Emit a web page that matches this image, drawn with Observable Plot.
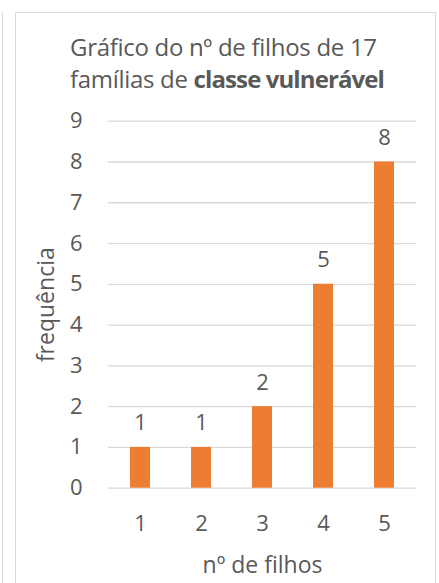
<!DOCTYPE html>
<html>
<head>
<meta charset="utf-8">
<script src="https://cdn.jsdelivr.net/npm/d3@7"></script>
<script src="https://cdn.jsdelivr.net/npm/@observablehq/plot@0.6"></script>
<style>
  html, body { margin: 0; padding: 0; background: #fff; }
  body { width: 439px; height: 583px; position: relative; overflow: hidden; font-family: "Open Sans", sans-serif; }
  #leftline { position: absolute; left: 2px; top: 12px; width: 0; height: 600px; border-left: 1px solid #d9d9d9; }
  #frame { position: absolute; left: 15px; top: 12px; width: 421px; height: 600px; border: 1px solid #d9d9d9; box-sizing: border-box; }
  #title { position: absolute; left: 70px; top: 31px; font-size: 24px; line-height: 32px; color: #595959; white-space: nowrap; letter-spacing: -0.3px; }
  #title b { font-weight: 700; letter-spacing: -0.9px; }
  #chart { position: absolute; left: 0; top: 100px; }
</style>
</head>
<body>
<div id="leftline"></div>
<div id="frame"></div>
<div id="title">Gráfico do nº de filhos de 17<br>famílias de <b>classe vulnerável</b></div>
<div id="chart"></div>
<script>
const categorias = ["1", "2", "3", "4", "5"];
const frequencias = [1, 1, 2, 5, 8];
const yTicks = [0, 1, 2, 3, 4, 5, 6, 7, 8, 9];
const xTitulo = "nº de filhos";
const yTitulo = "frequência";

const dados = categorias.map((c, i) => ({n: c, f: frequencias[i]}));

const plot = Plot.plot({
  width: 439,
  height: 483,
  marginLeft: 108,
  marginRight: 23,
  marginTop: 20.7,
  marginBottom: 95.3,
  style: {fontFamily: "'Open Sans', sans-serif", fontSize: "22px", color: "#595959", background: "transparent", overflow: "visible"},
  x: {domain: categorias, paddingInner: 0.68, paddingOuter: 0.34, label: null},
  y: {domain: [0, 9], label: null},
  marks: [
    Plot.gridY(yTicks, {stroke: "#d9d9d9", strokeOpacity: 1, strokeWidth: 1.3}),
    Plot.barY(dados, {x: "n", y: "f", fill: "#ED7D31"}),
    Plot.text(dados, {x: "n", y: "f", text: d => String(d.f), dy: -24, lineAnchor: "middle", fill: "#595959", fontSize: 22}),
    Plot.axisY(yTicks, {tickSize: 0, tickPadding: 26, fill: "#595959", label: null, fontSize: 22}),
    Plot.axisX({tickSize: 0, tickPadding: 27, fill: "#595959", label: null, fontSize: 22}),
    Plot.text([yTitulo], {frameAnchor: "left", dx: -62, rotate: -90, textAnchor: "middle", lineAnchor: "middle", fill: "#595959", fontSize: 23}),
    Plot.text([xTitulo], {frameAnchor: "bottom", dy: 68, lineAnchor: "top", fill: "#595959", fontSize: 23})
  ]
});
document.getElementById("chart").appendChild(plot);
</script>
</body>
</html>
